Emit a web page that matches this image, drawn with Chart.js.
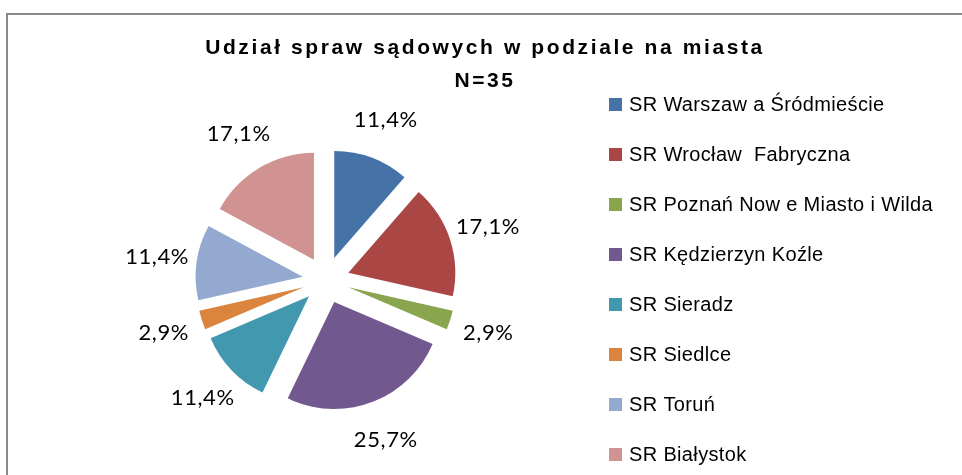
<!DOCTYPE html>
<html>
<head>
<meta charset="utf-8">
<script src="https://cdn.jsdelivr.net/npm/chart.js@4.4.0/dist/chart.umd.min.js"></script>
<style>
  html, body { margin: 0; padding: 0; background: #fff; overflow: hidden; }
  #wrap { position: relative; width: 962px; height: 475px; overflow: hidden; }
  #ramka { position: absolute; left: 6px; top: 13px; width: 1000px; height: 500px;
           border-left: 2px solid #8a8a8a; border-top: 2px solid #8a8a8a; }
  canvas { position: absolute; left: 0; top: 0; }
</style>
</head>
<body>
<div id="wrap">
  <div id="ramka"></div>
  <canvas id="wykres" width="962" height="475"></canvas>
</div>
<script>
const tytul = ["Udział spraw sądowych w podziale na miasta", "N=35"];
const miasta = [
  "SR Warszaw a Śródmieście",
  "SR Wrocław  Fabryczna",
  "SR Poznań Now e Miasto i Wilda",
  "SR Kędzierzyn Koźle",
  "SR Sieradz",
  "SR Siedlce",
  "SR Toruń",
  "SR Białystok"
];
const udzialy = [11.4, 17.1, 2.9, 25.7, 11.4, 2.9, 11.4, 17.1];
const kolory = ["#4572A7", "#AA4643", "#89A54E", "#71588F", "#4198AF", "#DB843D", "#93A9CF", "#D19392"];

const WYSUNIECIE = 23.5;   // explode distance of slices

// slices pushed out from the centre like in Excel (plain shift, no resizing)
const wysunietePlasterki = {
  id: 'wysunietePlasterki',
  beforeDatasetDraw(chart, args) {
    const ctx = chart.ctx;
    const meta = chart.getDatasetMeta(args.index);
    meta.data.forEach((arc) => {
      const p = arc.getProps(['x', 'y', 'startAngle', 'endAngle', 'outerRadius'], true);
      const kat = (p.startAngle + p.endAngle) / 2;
      const cx = p.x + Math.cos(kat) * WYSUNIECIE;
      const cy = p.y + Math.sin(kat) * WYSUNIECIE;
      ctx.save();
      ctx.beginPath();
      ctx.moveTo(cx, cy);
      ctx.arc(cx, cy, p.outerRadius, p.startAngle, p.endAngle);
      ctx.closePath();
      ctx.fillStyle = arc.options.backgroundColor;
      ctx.fill();
      ctx.restore();
    });
    return false;
  }
};

const etykiety = {
  id: 'etykiety',
  afterDatasetsDraw(chart) {
    const ctx = chart.ctx;
    const meta = chart.getDatasetMeta(0);
    ctx.save();
    ctx.font = '22px Lato';
    ctx.letterSpacing = '0.6px';
    ctx.fillStyle = '#000';
    ctx.textAlign = 'center';
    ctx.textBaseline = 'middle';
    meta.data.forEach((arc, i) => {
      const p = arc.getProps(['x', 'y', 'startAngle', 'endAngle', 'outerRadius'], true);
      const kat = (p.startAngle + p.endAngle) / 2;
      const r = p.outerRadius + WYSUNIECIE + 40;
      const tekst = udzialy[i].toFixed(1).replace('.', ',') + '%';
      ctx.fillText(tekst, p.x + Math.cos(kat) * r, p.y + Math.sin(kat) * r);
    });
    ctx.restore();
  }
};

const tytulILegenda = {
  id: 'tytulILegenda',
  afterDraw(chart) {
    const ctx = chart.ctx;
    ctx.save();
    ctx.fillStyle = '#000';
    ctx.textBaseline = 'middle';
    ctx.textAlign = 'center';
    ctx.font = 'bold 21px "Liberation Sans"';
    ctx.letterSpacing = '2.6px';
    tytul.forEach((linia, i) => {
      ctx.fillText(linia, 485, 48 + i * 33);
    });

    ctx.textAlign = 'left';
    ctx.font = '20px "Liberation Sans"';
    ctx.letterSpacing = '0.35px';
    miasta.forEach((m, i) => {
      const y = 104 + i * 50;
      ctx.fillStyle = kolory[i];
      ctx.fillRect(609, y - 6, 13, 13);
      ctx.fillStyle = '#000';
      ctx.fillText(m, 629, y + 1);
    });
    ctx.restore();
  }
};

new Chart(document.getElementById('wykres'), {
  type: 'pie',
  data: {
    labels: miasta,
    datasets: [{
      data: udzialy,
      backgroundColor: kolory,
      borderWidth: 0
    }]
  },
  options: {
    responsive: false,
    animation: false,
    devicePixelRatio: 1,
    radius: 107,
    layout: { padding: { left: 0, right: 310, top: 100, bottom: 15 } },
    plugins: {
      legend: { display: false },
      title: { display: false },
      tooltip: { enabled: false }
    }
  },
  plugins: [wysunietePlasterki, etykiety, tytulILegenda]
});
</script>
</body>
</html>
